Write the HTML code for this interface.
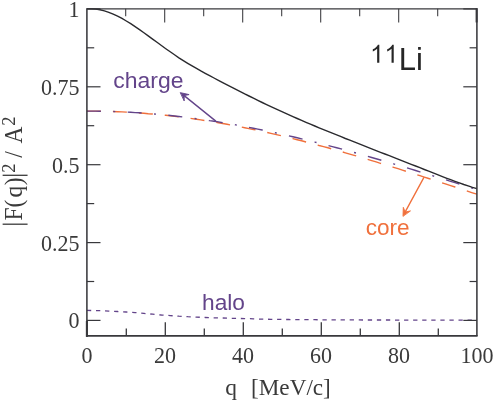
<!DOCTYPE html>
<html><head><meta charset="utf-8"><title>11Li form factor</title>
<style>
html,body{margin:0;padding:0;background:#fff;}
body{width:494px;height:401px;overflow:hidden;}
svg{display:block;will-change:transform;}
.serif{font-family:"Liberation Serif",serif;fill:#3a3a3a;}
.sans{font-family:"Liberation Sans",sans-serif;}
</style></head><body>
<svg xmlns="http://www.w3.org/2000/svg" width="494" height="401" viewBox="0 0 494 401">
<rect width="494" height="401" fill="#fff"/>
<!-- curves -->
<path d="M86.9,310.4 L91.3,310.5 L95.7,310.6 L100.0,310.7 L104.4,310.9 L108.8,311.1 L113.2,311.3 L117.6,311.5 L122.0,311.7 L126.3,312.0 L130.7,312.3 L135.1,312.6 L139.5,313.0 L143.9,313.4 L148.2,313.8 L152.6,314.2 L157.0,314.6 L161.4,315.0 L165.8,315.3 L170.2,315.6 L174.5,315.9 L178.9,316.2 L183.3,316.4 L187.7,316.7 L192.1,316.9 L196.5,317.1 L200.8,317.3 L205.2,317.5 L209.6,317.7 L214.0,317.8 L218.4,317.9 L222.7,318.0 L227.1,318.2 L231.5,318.3 L235.9,318.4 L240.3,318.5 L244.7,318.6 L249.0,318.7 L253.4,318.8 L257.8,319.0 L262.2,319.1 L266.6,319.2 L270.9,319.3 L275.3,319.4 L279.7,319.4 L284.1,319.5 L288.5,319.5 L292.9,319.6 L297.2,319.6 L301.6,319.6 L306.0,319.7 L310.4,319.7 L314.8,319.7 L319.1,319.8 L323.5,319.8 L327.9,319.8 L332.3,319.8 L336.7,319.8 L341.1,319.9 L345.4,319.9 L349.8,319.9 L354.2,319.9 L358.6,319.9 L363.0,320.0 L367.3,320.0 L371.7,320.0 L376.1,320.0 L380.5,320.0 L384.9,320.0 L389.3,320.0 L393.6,320.0 L398.0,320.1 L402.4,320.1 L406.8,320.1 L411.2,320.1 L415.6,320.1 L419.9,320.1 L424.3,320.1 L428.7,320.1 L433.1,320.1 L437.5,320.1 L441.8,320.1 L446.2,320.1 L450.6,320.1 L455.0,320.1 L459.4,320.1 L463.8,320.1 L468.1,320.1 L472.5,320.1 L476.9,320.1" fill="none" stroke="#63448a" stroke-width="1.3" stroke-dasharray="4.3 4.77"/>
<path d="M86.9,111.1 L91.3,111.1 L95.7,111.1 L100.0,111.2 L104.4,111.3 L108.8,111.4 L113.2,111.5 L117.6,111.7 L122.0,111.9 L126.3,112.1 L130.7,112.4 L135.1,112.7 L139.5,113.0 L143.9,113.3 L148.2,113.7 L152.6,114.0 L157.0,114.5 L161.4,114.9 L165.8,115.3 L170.2,115.8 L174.5,116.3 L178.9,116.9 L183.3,117.4 L187.7,118.0 L192.1,118.6 L196.5,119.3 L200.8,119.9 L205.2,120.6 L209.6,121.3 L214.0,122.0 L218.4,122.8 L222.7,123.5 L227.1,124.3 L231.5,125.1 L235.9,126.0 L240.3,126.8 L244.7,127.7 L249.0,128.6 L253.4,129.5 L257.8,130.4 L262.2,131.4 L266.6,132.4 L270.9,133.4 L275.3,134.4 L279.7,135.4 L284.1,136.5 L288.5,137.5 L292.9,138.6 L297.2,139.7 L301.6,140.8 L306.0,142.0 L310.4,143.1 L314.8,144.3 L319.1,145.5 L323.5,146.6 L327.9,147.8 L332.3,149.1 L336.7,150.3 L341.1,151.5 L345.4,152.8 L349.8,154.1 L354.2,155.4 L358.6,156.6 L363.0,157.9 L367.3,159.3 L371.7,160.6 L376.1,161.9 L380.5,163.3 L384.9,164.6 L389.3,166.0 L393.6,167.3 L398.0,168.7 L402.4,170.1 L406.8,171.5 L411.2,172.9 L415.6,174.3 L419.9,175.7 L424.3,177.1 L428.7,178.5 L433.1,179.9 L437.5,181.3 L441.8,182.7 L446.2,184.2 L450.6,185.6 L455.0,187.0 L459.4,188.5 L463.8,189.9 L468.1,191.3 L472.5,192.8 L476.9,194.2" fill="none" stroke="#f0703c" stroke-width="1.4" stroke-dasharray="14 12"/>
<path d="M86.9,111.1 L91.3,111.1 L95.7,111.1 L100.0,111.2 L104.4,111.3 L108.8,111.4 L113.2,111.5 L117.6,111.7 L122.0,111.8 L126.3,112.1 L130.7,112.3 L135.1,112.6 L139.5,112.8 L143.9,113.1 L148.2,113.5 L152.6,113.8 L157.0,114.2 L161.4,114.6 L165.8,115.0 L170.2,115.5 L174.5,116.0 L178.9,116.5 L183.3,117.0 L187.7,117.5 L192.1,118.1 L196.5,118.7 L200.8,119.3 L205.2,119.9 L209.6,120.6 L214.0,121.2 L218.4,121.9 L222.7,122.7 L227.1,123.4 L231.5,124.2 L235.9,124.9 L240.3,125.7 L244.7,126.6 L249.0,127.4 L253.4,128.2 L257.8,129.1 L262.2,130.0 L266.6,130.9 L270.9,131.9 L275.3,132.8 L279.7,133.8 L284.1,134.8 L288.5,135.8 L292.9,136.8 L297.2,137.8 L301.6,138.9 L306.0,139.9 L310.4,141.0 L314.8,142.1 L319.1,143.2 L323.5,144.3 L327.9,145.5 L332.3,146.6 L336.7,147.8 L341.1,148.9 L345.4,150.1 L349.8,151.3 L354.2,152.5 L358.6,153.8 L363.0,155.0 L367.3,156.2 L371.7,157.5 L376.1,158.7 L380.5,160.0 L384.9,161.3 L389.3,162.6 L393.6,163.9 L398.0,165.2 L402.4,166.5 L406.8,167.8 L411.2,169.1 L415.6,170.5 L419.9,171.8 L424.3,173.2 L428.7,174.5 L433.1,175.9 L437.5,177.2 L441.8,178.6 L446.2,179.9 L450.6,181.3 L455.0,182.7 L459.4,184.1 L463.8,185.4 L468.1,186.8 L472.5,188.2 L476.9,189.6" fill="none" stroke="#63448a" stroke-width="1.4" stroke-dasharray="14 12.4 2 12.4"/>
<path d="M86.9,8.8 L91.3,8.8 L95.7,9.0 L100.0,9.7 L104.4,10.8 L108.8,12.3 L113.2,14.1 L117.6,16.1 L122.0,18.4 L126.3,21.0 L130.7,23.7 L135.1,26.6 L139.5,29.6 L143.9,32.7 L148.2,35.9 L152.6,39.1 L157.0,42.3 L161.4,45.5 L165.8,48.7 L170.2,51.8 L174.5,54.8 L178.9,57.8 L183.3,60.6 L187.7,63.3 L192.1,65.9 L196.5,68.4 L200.8,70.9 L205.2,73.3 L209.6,75.7 L214.0,78.0 L218.4,80.3 L222.7,82.6 L227.1,84.9 L231.5,87.2 L235.9,89.4 L240.3,91.6 L244.7,93.9 L249.0,96.0 L253.4,98.2 L257.8,100.3 L262.2,102.5 L266.6,104.6 L270.9,106.6 L275.3,108.7 L279.7,110.7 L284.1,112.7 L288.5,114.7 L292.9,116.6 L297.2,118.5 L301.6,120.4 L306.0,122.3 L310.4,124.1 L314.8,126.0 L319.1,127.8 L323.5,129.6 L327.9,131.4 L332.3,133.2 L336.7,134.9 L341.1,136.7 L345.4,138.5 L349.8,140.2 L354.2,141.9 L358.6,143.7 L363.0,145.4 L367.3,147.1 L371.7,148.8 L376.1,150.6 L380.5,152.3 L384.9,154.0 L389.3,155.7 L393.6,157.4 L398.0,159.1 L402.4,160.9 L406.8,162.6 L411.2,164.3 L415.6,166.0 L419.9,167.7 L424.3,169.5 L428.7,171.2 L433.1,172.9 L437.5,174.7 L441.8,176.4 L446.2,178.1 L450.6,179.7 L455.0,181.3 L459.4,182.9 L463.8,184.5 L468.1,185.9 L472.5,187.4 L476.9,188.7" fill="none" stroke="#2a2a2e" stroke-width="1.4"/>
<!-- frame -->
<g stroke="#38383c" fill="none">
<line x1="86.9" y1="8.15" x2="86.9" y2="336.79999999999995" stroke-width="1.55"/>
<line x1="86.2" y1="335.9" x2="477.59999999999997" y2="335.9" stroke-width="1.8"/>
<line x1="476.9" y1="8.15" x2="476.9" y2="335.9" stroke-width="1.55"/>
<line x1="86.9" y1="8.85" x2="476.9" y2="8.85" stroke-width="1.4"/>
<line x1="86.9" y1="320.95" x2="86.9" y2="336.79999999999995" stroke-width="2.1"/>
<line x1="476.59999999999997" y1="8.2" x2="476.59999999999997" y2="22.45" stroke-width="2"/>
<g stroke-width="1.2">
<line x1="126.3" y1="335.9" x2="126.3" y2="328.5" stroke-width="1.3"/>
<line x1="125.7" y1="8.85" x2="125.7" y2="16.25" stroke-width="1.05"/>
<line x1="165.3" y1="335.9" x2="165.3" y2="322.2" stroke-width="1.3"/>
<line x1="164.7" y1="8.85" x2="164.7" y2="22.549999999999997" stroke-width="1.05"/>
<line x1="204.3" y1="335.9" x2="204.3" y2="328.5" stroke-width="1.3"/>
<line x1="203.7" y1="8.85" x2="203.7" y2="16.25" stroke-width="1.05"/>
<line x1="243.3" y1="335.9" x2="243.3" y2="322.2" stroke-width="1.3"/>
<line x1="242.7" y1="8.85" x2="242.7" y2="22.549999999999997" stroke-width="1.05"/>
<line x1="282.3" y1="335.9" x2="282.3" y2="328.5" stroke-width="1.3"/>
<line x1="281.7" y1="8.85" x2="281.7" y2="16.25" stroke-width="1.05"/>
<line x1="321.3" y1="335.9" x2="321.3" y2="322.2" stroke-width="1.3"/>
<line x1="320.7" y1="8.85" x2="320.7" y2="22.549999999999997" stroke-width="1.05"/>
<line x1="360.3" y1="335.9" x2="360.3" y2="328.5" stroke-width="1.3"/>
<line x1="359.7" y1="8.85" x2="359.7" y2="16.25" stroke-width="1.05"/>
<line x1="399.3" y1="335.9" x2="399.3" y2="322.2" stroke-width="1.3"/>
<line x1="398.7" y1="8.85" x2="398.7" y2="22.549999999999997" stroke-width="1.05"/>
<line x1="438.3" y1="335.9" x2="438.3" y2="328.5" stroke-width="1.3"/>
<line x1="437.7" y1="8.85" x2="437.7" y2="16.25" stroke-width="1.05"/>
<line x1="86.9" y1="320.4" x2="100.5" y2="320.4"/>
<line x1="476.9" y1="320.4" x2="463.29999999999995" y2="320.4"/>
<line x1="86.9" y1="281.5" x2="94.2" y2="281.5"/>
<line x1="476.9" y1="281.5" x2="469.59999999999997" y2="281.5"/>
<line x1="86.9" y1="242.6" x2="100.5" y2="242.6"/>
<line x1="476.9" y1="242.6" x2="463.29999999999995" y2="242.6"/>
<line x1="86.9" y1="203.6" x2="94.2" y2="203.6"/>
<line x1="476.9" y1="203.6" x2="469.59999999999997" y2="203.6"/>
<line x1="86.9" y1="164.7" x2="100.5" y2="164.7"/>
<line x1="476.9" y1="164.7" x2="463.29999999999995" y2="164.7"/>
<line x1="86.9" y1="125.7" x2="94.2" y2="125.7"/>
<line x1="476.9" y1="125.7" x2="469.59999999999997" y2="125.7"/>
<line x1="86.9" y1="86.8" x2="100.5" y2="86.8"/>
<line x1="476.9" y1="86.8" x2="463.29999999999995" y2="86.8"/>
<line x1="86.9" y1="47.8" x2="94.2" y2="47.8"/>
<line x1="476.9" y1="47.8" x2="469.59999999999997" y2="47.8"/>
<line x1="86.9" y1="8.9" x2="100.5" y2="8.9"/>
<line x1="476.9" y1="8.9" x2="463.29999999999995" y2="8.9"/>
</g></g>
<!-- tick labels -->
<g class="serif" font-size="22">
<text transform="translate(86.9,363) scale(1,1.09)" text-anchor="middle">0</text>
<text transform="translate(164.9,363) scale(1,1.09)" text-anchor="middle">20</text>
<text transform="translate(242.9,363) scale(1,1.09)" text-anchor="middle">40</text>
<text transform="translate(320.9,363) scale(1,1.09)" text-anchor="middle">60</text>
<text transform="translate(398.9,363) scale(1,1.09)" text-anchor="middle">80</text>
<text transform="translate(476.9,363) scale(1,1.09)" text-anchor="middle">100</text>
<text transform="translate(79.4,328.3) scale(1,1.09)" text-anchor="end">0</text>
<text transform="translate(79.4,250.5) scale(1,1.09)" text-anchor="end">0.25</text>
<text transform="translate(79.4,172.6) scale(1,1.09)" text-anchor="end">0.5</text>
<text transform="translate(79.4,94.7) scale(1,1.09)" text-anchor="end">0.75</text>
<text transform="translate(79.4,16.8) scale(1,1.09)" text-anchor="end">1</text>
</g>
<!-- axis labels -->
<g class="serif" font-size="23.5">
<text x="225.2" y="394.6">q</text>
<text x="251" y="394.6" font-size="23.2">[MeV/c]</text>
</g>
<g class="serif" font-size="23.5" transform="translate(22,227) rotate(-90) scale(1,1.07)">
<line x1="2.8" y1="5.2" x2="2.8" y2="-18.1" stroke="#3a3a3a" stroke-width="1.3"/>
<text x="6.5" y="0">F</text>
<text x="19.5" y="0">(</text>
<text x="29.6" y="0">q</text>
<text x="41.8" y="0">)</text>
<line x1="51.7" y1="5.2" x2="51.7" y2="-18.1" stroke="#3a3a3a" stroke-width="1.3"/>
<text x="54.2" y="-6.9" font-size="18.5">2</text>
<text x="69.3" y="0">/</text>
<text x="83.5" y="0">A</text>
<text x="101.3" y="-6.9" font-size="18.5">2</text>
</g>
<!-- annotations -->
<g class="sans" font-size="21.5">
<text x="113.3" y="88.2" fill="#63448a" textLength="70.2" lengthAdjust="spacingAndGlyphs">charge</text>
<text x="365.7" y="234.6" fill="#f0703c" textLength="43.9" lengthAdjust="spacingAndGlyphs">core</text>
<text x="202.1" y="310" fill="#63448a" textLength="42.9" lengthAdjust="spacingAndGlyphs">halo</text>
</g>
<g class="sans" fill="#262626">
<path transform="translate(370.1,62.7) scale(24.8,-24.8)" d="M0.372 0 L0.284 0 L0.284 0.560 C0.263 0.540 0.235 0.520 0.201 0.500 C0.167 0.480 0.136 0.465 0.109 0.455 L0.109 0.540 C0.158 0.563 0.201 0.591 0.237 0.624 C0.274 0.657 0.300 0.689 0.315 0.720 L0.372 0.720 Z"/>
<path transform="translate(384.5,62.7) scale(24.8,-24.8)" d="M0.372 0 L0.284 0 L0.284 0.560 C0.263 0.540 0.235 0.520 0.201 0.500 C0.167 0.480 0.136 0.465 0.109 0.455 L0.109 0.540 C0.158 0.563 0.201 0.591 0.237 0.624 C0.274 0.657 0.300 0.689 0.315 0.720 L0.372 0.720 Z"/>
<text font-size="31" x="398.8" y="70.1">Li</text>
</g>
<!-- arrows -->
<g stroke="#63448a" stroke-linecap="round" stroke-linejoin="round"><path d="M215.5,120.9 L182.9,94.6" fill="none" stroke-width="1.35"/><path d="M180.6,92.7 L189.1,94.6 L184.2,95.6 L184.2,100.6 Z" fill="#63448a" stroke-width="0.9"/></g>
<g stroke="#f0703c" stroke-linecap="round" stroke-linejoin="round"><path d="M423.8,177.6 L404.4,213.4" fill="none" stroke-width="1.35"/><path d="M403.0,216.0 L403.3,207.3 L405.2,212.0 L410.1,211.0 Z" fill="#f0703c" stroke-width="0.9"/></g>
</svg>
</body></html>
